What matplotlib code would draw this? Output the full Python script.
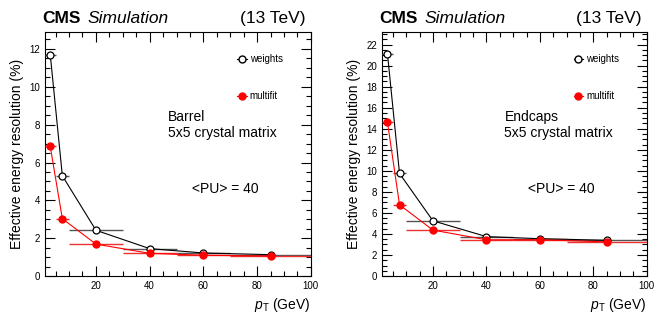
import numpy as np
import matplotlib
matplotlib.use('Agg')
import matplotlib.pyplot as plt
from matplotlib.ticker import MultipleLocator
from matplotlib.lines import Line2D

plt.rcParams['font.family'] = ['Liberation Sans', 'DejaVu Sans']
plt.rcParams['mathtext.fontset'] = 'custom'
plt.rcParams['mathtext.it'] = 'Liberation Sans:italic'
plt.rcParams['mathtext.rm'] = 'Liberation Sans'

# pT bins (GeV)
pt = np.array([3, 7.5, 20, 40, 60, 85])
pt_lo = np.array([1, 5, 10, 30, 50, 70])
pt_hi = np.array([5, 10, 30, 50, 70, 100])

# effective resolution (%)
barrel_weights = [11.7, 5.3, 2.42, 1.45, 1.22, 1.13]
barrel_multifit = [6.85, 3.03, 1.69, 1.2, 1.1, 1.06]
endcap_weights = [21.1, 9.75, 5.25, 3.75, 3.55, 3.4]
endcap_multifit = [14.6, 6.77, 4.37, 3.45, 3.45, 3.25]

panels = [
    ('Barrel', barrel_weights, barrel_multifit, 12.9, 2),
    ('Endcaps', endcap_weights, endcap_multifit, 23.2, 2),
]

fig = plt.figure(figsize=(6.6, 3.13), dpi=100)
positions = [[0.068, 0.118, 0.403, 0.78], [0.579, 0.118, 0.401, 0.78]]

xerr = [pt - pt_lo, pt_hi - pt]

for pos, (region, w, m, ymax, major) in zip(positions, panels):
    ax = fig.add_axes(pos)
    ax.errorbar(pt, w, xerr=xerr, fmt='-o', color='black', ecolor='#555555',
                mfc='white', mec='black', ms=5, mew=0.9, lw=0.8, elinewidth=1.0, zorder=3)
    ax.errorbar(pt, m, xerr=xerr, fmt='-o', color='red', ecolor='#ee3030',
                mfc='red', mec='red', ms=5, lw=0.8, elinewidth=1.0, zorder=4)
    ax.set_xlim(1, 100)
    ax.set_ylim(0, ymax)
    ax.xaxis.set_major_locator(MultipleLocator(20))
    ax.xaxis.set_minor_locator(MultipleLocator(5))
    ax.yaxis.set_major_locator(MultipleLocator(major))
    ax.yaxis.set_minor_locator(MultipleLocator(0.5))
    ax.tick_params(which='both', direction='in', top=True, right=True,
                   labelsize=7, width=0.8)
    ax.tick_params(which='major', length=7)
    ax.tick_params(which='minor', length=3.5)
    ax.set_xticks([20, 40, 60, 80, 100])
    for s in ax.spines.values():
        s.set_linewidth(0.8)

    ax.set_ylabel('Effective energy resolution (%)', fontsize=10)
    ax.set_xlabel(r'$p_{\mathrm{T}}$ (GeV)', fontsize=10, loc='right')

    handles = [
        Line2D([], [], marker='o', color='black', mfc='white', ms=5, lw=0.8),
        Line2D([], [], marker='o', color='red', mfc='red', ms=5, lw=0.8),
    ]
    ax.legend(handles, ['weights', 'multifit'], loc='upper left',
              bbox_to_anchor=(0.69, 0.945), frameon=False, fontsize=7,
              handlelength=1.0, handletextpad=0.3, labelspacing=2.8)

    ax.text(0.462, 0.68, region + '\n5x5 crystal matrix', transform=ax.transAxes,
            fontsize=10, va='top', ha='left', linespacing=1.15)
    ax.text(0.553, 0.357, '<PU> = 40', transform=ax.transAxes,
            fontsize=10, va='center', ha='left')

    ax.text(-0.01, 1.025, 'CMS', transform=ax.transAxes, fontsize=12.5,
            fontweight='bold', va='bottom', ha='left')
    ax.text(0.16, 1.025, 'Simulation', transform=ax.transAxes, fontsize=12.5,
            style='italic', va='bottom', ha='left')
    ax.text(0.98, 1.025, '(13 TeV)', transform=ax.transAxes, fontsize=12.5,
            va='bottom', ha='right')

fig.savefig('out.png', dpi=100)
